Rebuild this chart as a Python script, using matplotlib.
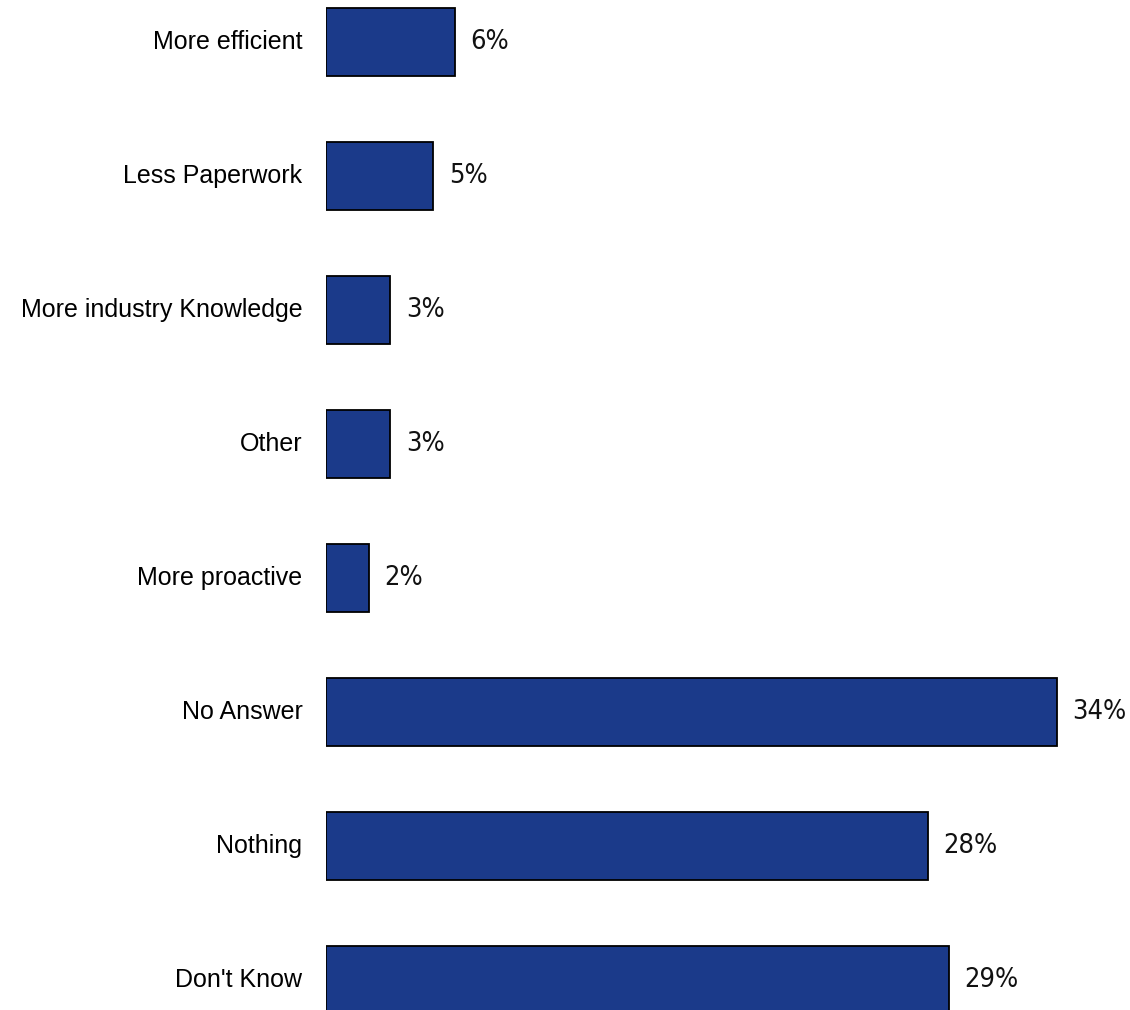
import matplotlib
matplotlib.use("Agg")
import matplotlib.pyplot as plt

categories = [
    "More efficient",
    "Less Paperwork",
    "More industry Knowledge",
    "Other",
    "More proactive",
    "No Answer",
    "Nothing",
    "Don't Know",
]
values = [6, 5, 3, 3, 2, 34, 28, 29]
value_labels = ["6%", "5%", "3%", "3%", "2%", "34%", "28%", "29%"]

BAR_COLOR = "#1B3A8A"

fig = plt.figure(figsize=(11.3, 10.1), dpi=100)
ax = fig.add_axes([326 / 1130, 0, 804 / 1130, 1])

pos = list(range(len(categories)))
ax.barh(pos, values, height=0.51, color=BAR_COLOR, edgecolor="black",
        linewidth=1.3, zorder=2)

ax.set_xlim(0, 37.4)
ax.set_ylim(7.224, -0.313)

# category labels to the left of the bars
for y, cat in zip(pos, categories):
    ax.annotate(cat, (0, y), xytext=(-17, 0), textcoords="offset points",
                ha="right", va="center", fontsize=18,
                family=["Liberation Sans", "DejaVu Sans"], stretch="normal",
                color="black", annotation_clip=False)

# value labels to the right of the bars (narrow face)
for y, v, lab in zip(pos, values, value_labels):
    ax.annotate(lab, (v, y), xytext=(11, 0), textcoords="offset points",
                ha="left", va="center", fontsize=19.5,
                family=["DejaVu Sans"], stretch="condensed",
                weight="light", color="#111111", annotation_clip=False)

ax.axis("off")

fig.savefig("out.png", dpi=100)
